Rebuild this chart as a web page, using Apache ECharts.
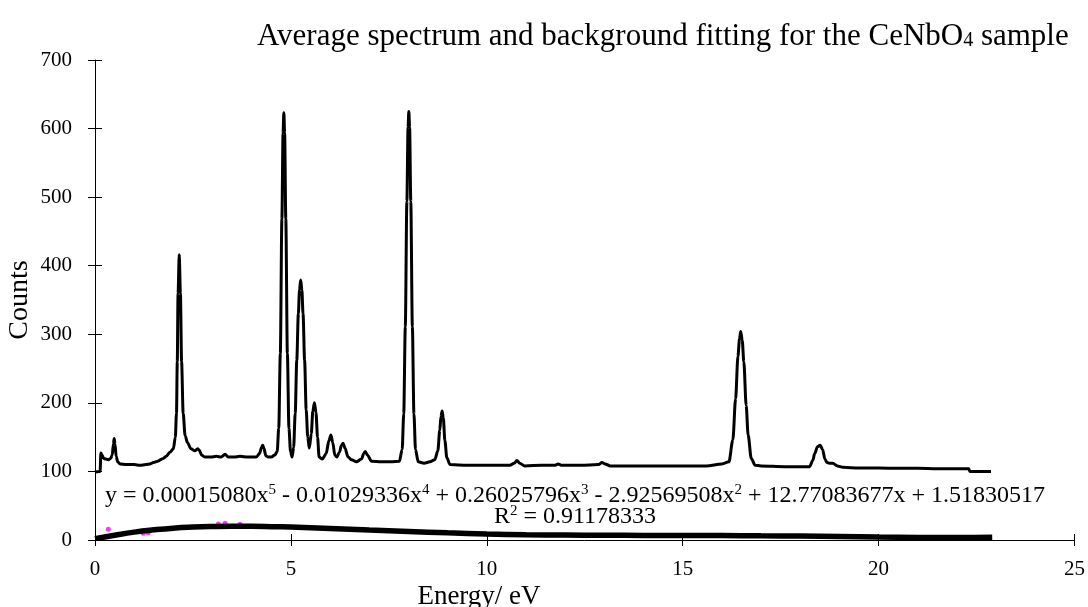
<!DOCTYPE html>
<html>
<head>
<meta charset="utf-8">
<script src="https://cdn.jsdelivr.net/npm/echarts@6/dist/echarts.min.js"></script>
<style>
  html, body { margin: 0; padding: 0; background: #fff; }
  #chart { width: 1088px; height: 607px; }
</style>
</head>
<body>
<div id="chart"></div>
<script>
// average spectrum
var energy = [0.00, 0.10, 0.13, 0.15, 0.18, 0.22, 0.28, 0.34, 0.40, 0.44, 0.47, 0.49, 0.51, 0.54, 0.58, 0.64,
  0.80, 1.00, 1.15, 1.30, 1.40, 1.49, 1.60, 1.74, 1.82, 1.91, 2.00, 2.05, 2.08, 2.10, 2.12, 2.15, 2.18, 2.21,
  2.25, 2.30, 2.36, 2.45, 2.55, 2.62, 2.66, 2.72, 2.80, 2.95, 3.10, 3.22, 3.32, 3.40, 3.55, 3.70, 3.90, 4.12,
  4.20, 4.25, 4.28, 4.31, 4.36, 4.42, 4.50, 4.59, 4.65, 4.69, 4.73, 4.77, 4.80, 4.82, 4.84, 4.87, 4.91, 4.95,
  4.99, 5.03, 5.07, 5.11, 5.15, 5.19, 5.22, 5.25, 5.28, 5.31, 5.35, 5.39, 5.43, 5.47, 5.52, 5.56, 5.60, 5.64,
  5.68, 5.72, 5.80, 5.90, 5.97, 6.02, 6.07, 6.12, 6.17, 6.24, 6.29, 6.33, 6.38, 6.46, 6.55, 6.67, 6.80, 6.86,
  6.90, 6.95, 7.06, 7.30, 7.55, 7.77, 7.84, 7.88, 7.92, 7.96, 7.99, 8.01, 8.03, 8.06, 8.10, 8.14, 8.18, 8.25,
  8.40, 8.55, 8.67, 8.75, 8.80, 8.83, 8.86, 8.89, 8.93, 8.98, 9.06, 9.50, 10.00, 10.59, 10.70, 10.77, 10.84,
  10.97, 11.40, 11.75, 11.82, 11.90, 12.40, 12.85, 12.94, 13.02, 13.15, 13.80, 14.50, 15.20, 15.60, 16.00,
  16.18, 16.28, 16.35, 16.41, 16.45, 16.48, 16.52, 16.56, 16.62, 16.67, 16.75, 16.85, 17.00, 17.60, 18.24,
  18.32, 18.37, 18.44, 18.51, 18.57, 18.63, 18.68, 18.75, 18.83, 18.95, 19.09, 19.50, 20.00, 20.50, 21.00,
  21.50, 22.00, 22.30, 22.33, 22.60, 22.87];
var counts = [99, 100, 100, 127, 124, 119, 118, 117, 119, 124, 140, 148, 140, 122, 114, 111,
  110, 110, 109, 110, 111, 113, 115, 119, 122, 128, 133, 150, 185, 260, 360, 416, 360, 260,
  185, 152, 142, 133, 130, 133, 131, 124, 121, 121, 122, 121, 125, 121, 121, 122, 121, 121,
  126, 135, 138, 134, 123, 121, 121, 124, 129, 163, 272, 468, 594, 623, 594, 468, 272, 163,
  129, 121, 135, 185, 262, 330, 365, 379, 365, 330, 262, 190, 150, 134, 155, 188, 200, 186,
  150, 121, 118, 126, 145, 153, 142, 124, 121, 128, 138, 141, 134, 121, 117, 114, 118, 126,
  129, 124, 115, 114, 114, 115, 132, 184, 311, 494, 602, 625, 602, 494, 311, 184, 132, 114,
  112, 114, 117, 130, 160, 180, 188, 178, 145, 120, 110, 109, 109, 109, 112, 116, 112,
  108, 109, 109, 111, 109, 109, 110, 113, 111, 108, 108, 108, 108, 108, 111,
  114, 146, 206, 268, 293, 304, 291, 260, 196, 153, 119, 109, 108, 107, 107,
  116, 126, 136, 138, 132, 118, 113, 112, 112, 108, 106, 105, 105, 104.5, 104.5,
  104, 104, 104, 100, 100, 100];

// background fit curve
var fitEnergy = [0, 0.5, 1, 1.5, 2, 2.5, 3, 3.5, 4, 4.5, 5, 6, 7, 8, 9, 10, 11, 12, 13, 14, 15, 16, 17, 18, 19, 20, 21, 22, 22.9];
var fitCounts = [2, 7, 11.5, 14.8, 17.3, 18.8, 19.7, 20.1, 20, 19.5, 18.8, 16.9, 14.7, 12.5, 10.4, 8.7, 7.7, 7.3, 6.9, 6.7, 6.6, 6.4, 6.1, 5.8, 5.1, 4.3, 3.8, 3.6, 4.1];

// background points (mostly hidden under the fit)
var bgEnergy = [0.34, 1.23, 1.36, 3.15, 3.32, 3.70];
var bgCounts = [15.6, 9.7, 10.7, 23.3, 24.3, 23.0];

function pairs(xs, ys) {
    var out = [];
    for (var i = 0; i < xs.length; i++) out.push([xs[i], ys[i]]);
    return out;
}

var FONT = 'Liberation Serif';
var chart = echarts.init(document.getElementById('chart'));

var supRich = {
    t: { fontFamily: FONT, fontSize: 24, fill: '#000', verticalAlign: 'bottom', lineHeight: 27 },
    p: { fontFamily: FONT, fontSize: 15, fill: '#000', verticalAlign: 'bottom', lineHeight: 18, padding: [0, 0, 10, 0] }
};

// second axis of each pair only draws the inner half of the cross ticks
var option = {
    animation: false,
    backgroundColor: '#fff',
    grid: { left: 95, right: 13, top: 60, bottom: 67 },
    xAxis: [
        {
            type: 'value', min: 0, max: 25, interval: 5,
            axisLine: { lineStyle: { color: '#000', width: 1 } },
            axisTick: { show: true, inside: false, length: 6, lineStyle: { color: '#000' } },
            axisLabel: { color: '#000', fontFamily: FONT, fontSize: 21, margin: 19 },
            splitLine: { show: false }
        },
        {
            type: 'value', min: 0, max: 25, interval: 5, position: 'bottom',
            axisLine: { show: false },
            axisTick: { show: true, inside: true, length: 6, lineStyle: { color: '#000' } },
            axisLabel: { show: false },
            splitLine: { show: false }
        }
    ],
    yAxis: [
        {
            type: 'value', min: 0, max: 700, interval: 100,
            axisLine: { show: true, lineStyle: { color: '#000', width: 1 } },
            axisTick: { show: true, inside: false, length: 7, lineStyle: { color: '#000' } },
            axisLabel: { color: '#000', fontFamily: FONT, fontSize: 21, margin: 23 },
            splitLine: { show: false }
        },
        {
            type: 'value', min: 0, max: 700, interval: 100, position: 'left',
            axisLine: { show: false },
            axisTick: { show: true, inside: true, length: 7, lineStyle: { color: '#000' } },
            axisLabel: { show: false },
            splitLine: { show: false }
        }
    ],
    graphic: [
        {
            type: 'text', left: 257, top: 21,
            style: {
                text: '{a|Average spectrum and background fitting for the CeNbO}{s|4}{a| sample}',
                rich: {
                    a: { fontFamily: FONT, fontSize: 31, fill: '#000', verticalAlign: 'top', lineHeight: 34 },
                    s: { fontFamily: FONT, fontSize: 20, fill: '#000', verticalAlign: 'top', lineHeight: 34, padding: [10, 0, 0, 0] }
                }
            }
        },
        {
            type: 'text', x: 20, y: 300, rotation: Math.PI / 2,
            style: { text: 'Counts', fontFamily: FONT, fontSize: 28, fill: '#000', align: 'center', verticalAlign: 'middle' }
        },
        {
            type: 'text', x: 479, y: 597,
            style: { text: 'Energy/ eV', fontFamily: FONT, fontSize: 27, fill: '#000', align: 'center', verticalAlign: 'middle' }
        },
        {
            type: 'text', x: 575, y: 494,
            style: {
                text: '{t|y = 0.00015080x}{p|5}{t| - 0.01029336x}{p|4}{t| + 0.26025796x}{p|3}{t| - 2.92569508x}{p|2}{t| + 12.77083677x + 1.51830517}',
                align: 'center', verticalAlign: 'middle',
                rich: supRich
            }
        },
        {
            type: 'text', x: 575, y: 515,
            style: {
                text: '{t|R}{p|2}{t| = 0.91178333}',
                align: 'center', verticalAlign: 'middle',
                rich: supRich
            }
        }
    ],
    series: [
        {
            name: 'background',
            type: 'scatter',
            data: pairs(bgEnergy, bgCounts),
            symbol: 'circle', symbolSize: 5,
            itemStyle: { color: '#ff00ff' },
            z: 1
        },
        {
            name: 'fit',
            type: 'line',
            data: pairs(fitEnergy, fitCounts),
            smooth: true,
            showSymbol: false,
            lineStyle: { color: '#000', width: 5.5 },
            z: 3
        },
        {
            name: 'spectrum',
            type: 'line',
            data: pairs(energy, counts),
            smooth: 0.3,
            smoothMonotone: 'x',
            showSymbol: false,
            lineStyle: { color: '#000', width: 3 },
            z: 4
        }
    ]
};

chart.setOption(option);
</script>
</body>
</html>
